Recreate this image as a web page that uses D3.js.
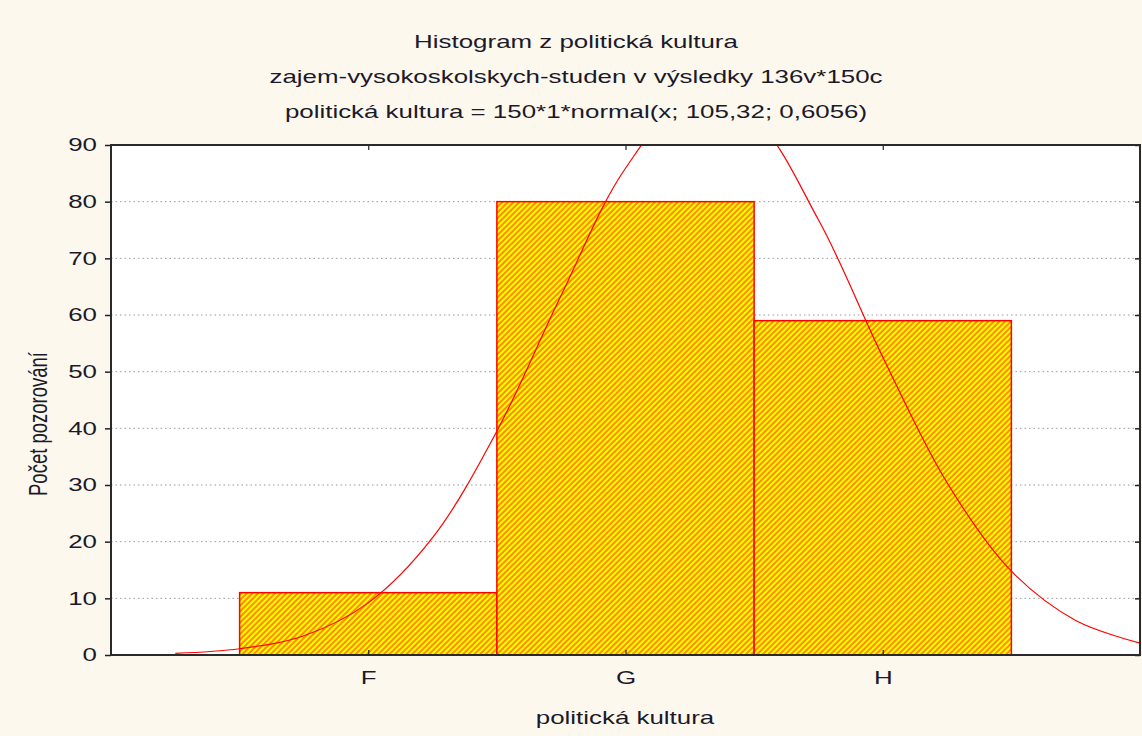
<!DOCTYPE html>
<html>
<head>
<meta charset="utf-8">
<script src="https://cdn.jsdelivr.net/npm/d3@7"></script>
<style>
  body { margin: 0; background: #fdf8ee; }
  svg { display: block; font-family: "Liberation Sans", Arial, sans-serif; }
</style>
</head>
<body>
<div id="chart"></div>
<script>
// histogram bins (category code -> label)
const binCodes = [104, 105, 106];
const binLabels = ["F", "G", "H"];
const binCounts = [11, 80, 59];

// fitted normal curve
const curveX = [103.25, 103.5, 103.75, 104, 104.25, 104.5, 104.75, 105, 105.25, 105.5, 105.75, 106, 106.25, 106.5, 106.75, 107];
const curveY = [0.3, 1.1, 3.4, 9.2, 20.7, 39.5, 63.5, 85.9, 98.2, 94.5, 76.8, 52.6, 30.4, 14.8, 6.1, 2.1];

const yTicks = [0, 10, 20, 30, 40, 50, 60, 70, 80, 90];
const titleLines = [
  "Histogram z politická kultura",
  "zajem-vysokoskolskych-studen v výsledky 136v*150c",
  "politická kultura = 150*1*normal(x; 105,32; 0,6056)"
];

const width = 1142, height = 736;
const margin = { top: 145, right: 2, bottom: 81, left: 111 };
const w = width - margin.left - margin.right;
const h = height - margin.top - margin.bottom;
const fs = 18.5, sx = 1.4; // text is drawn wide in the original

const svg = d3.select("#chart").append("svg")
  .attr("width", width)
  .attr("height", height);

svg.append("rect").attr("width", width).attr("height", height).attr("fill", "#fdf8ee");

const defs = svg.append("defs");
const pat = defs.append("pattern")
  .attr("id", "hatch")
  .attr("patternUnits", "userSpaceOnUse")
  .attr("width", 4).attr("height", 4)
  .attr("patternTransform", "rotate(45)");
pat.append("rect").attr("width", 4).attr("height", 4).attr("fill", "#ffff00");
pat.append("line").attr("x1", 1).attr("y1", 0).attr("x2", 1).attr("y2", 4)
  .attr("stroke", "#ff1a00").attr("stroke-width", 1.0);

defs.append("clipPath").attr("id", "plotclip")
  .append("rect").attr("width", w).attr("height", h);

const x = d3.scaleLinear().domain([103, 107]).range([0, w]);
const y = d3.scaleLinear().domain([0, 90]).range([h, 0]);

const g = svg.append("g").attr("transform", `translate(${margin.left},${margin.top})`);

g.append("rect").attr("width", w).attr("height", h).attr("fill", "#ffffff");

// gridlines
g.append("g")
  .selectAll("line")
  .data(yTicks.filter(d => d > 0 && d < 90))
  .join("line")
  .attr("x1", 0).attr("x2", w)
  .attr("y1", d => y(d)).attr("y2", d => y(d))
  .attr("stroke", "#9a9a9a")
  .attr("stroke-width", 1)
  .attr("stroke-dasharray", "1.5,3");

// bars
g.append("g")
  .selectAll("rect")
  .data(binCodes)
  .join("rect")
  .attr("x", d => x(d - 0.5))
  .attr("width", d => x(d + 0.5) - x(d - 0.5))
  .attr("y", (d, i) => y(binCounts[i]))
  .attr("height", (d, i) => y(0) - y(binCounts[i]))
  .attr("fill", "url(#hatch)")
  .attr("stroke", "#ff0000")
  .attr("stroke-width", 1.5);

// normal curve
const line = d3.line()
  .x(d => x(d[0]))
  .y(d => y(d[1]))
  .curve(d3.curveCatmullRom);

g.append("path")
  .datum(curveX.map((v, i) => [v, curveY[i]]))
  .attr("clip-path", "url(#plotclip)")
  .attr("d", line)
  .attr("fill", "none")
  .attr("stroke", "#ff0000")
  .attr("stroke-width", 1.2);

// axes
const yAx = g.append("g").call(d3.axisLeft(y).tickValues(yTicks).tickSize(6));
yAx.select(".domain").remove();
yAx.selectAll("text")
  .attr("x", 0)
  .attr("transform", `translate(-14,0) scale(${sx},1)`)
  .attr("font-size", fs).attr("fill", "#1a1a2a");
yAx.selectAll("line").attr("stroke", "#222").attr("stroke-width", 1.5);

const xAx = g.append("g").attr("transform", `translate(0,${h})`)
  .call(d3.axisBottom(x).tickValues(binCodes)
    .tickFormat((d, i) => binLabels[i]).tickSize(-5));
xAx.select(".domain").remove();
xAx.selectAll("text")
  .attr("y", 0)
  .attr("dy", null)
  .attr("transform", `translate(0,29) scale(${sx},1)`)
  .attr("font-size", fs).attr("fill", "#1a1a2a");
xAx.selectAll("line").attr("stroke", "#222").attr("stroke-width", 1.2);

// mirrored inner ticks
const topAx = g.append("g").call(d3.axisTop(x).tickValues(binCodes).tickSize(-5).tickFormat(""));
topAx.select(".domain").remove();
topAx.selectAll("line").attr("stroke", "#222").attr("stroke-width", 1.2);
const rightAx = g.append("g").attr("transform", `translate(${w},0)`)
  .call(d3.axisRight(y).tickValues(yTicks).tickSize(-5).tickFormat(""));
rightAx.select(".domain").remove();
rightAx.selectAll("line").attr("stroke", "#222").attr("stroke-width", 1.5);

// frame
g.append("rect").attr("width", w).attr("height", h)
  .attr("fill", "none").attr("stroke", "#2a2a2a").attr("stroke-width", 2);

// titles
svg.append("g")
  .selectAll("text")
  .data(titleLines)
  .join("text")
  .attr("transform", (d, i) => `translate(576,${48 + i * 35}) scale(${sx},1)`)
  .attr("text-anchor", "middle")
  .attr("font-size", fs)
  .attr("fill", "#1a1a2a")
  .text(d => d);

svg.append("text")
  .attr("transform", `translate(625,724) scale(${sx},1)`)
  .attr("text-anchor", "middle")
  .attr("font-size", fs)
  .attr("fill", "#1a1a2a")
  .text("politická kultura");

svg.append("text")
  .attr("transform", `translate(47,424) rotate(-90) scale(1,${sx})`)
  .attr("text-anchor", "middle")
  .attr("font-size", fs)
  .attr("fill", "#1a1a2a")
  .text("Počet pozorování");
</script>
</body>
</html>
